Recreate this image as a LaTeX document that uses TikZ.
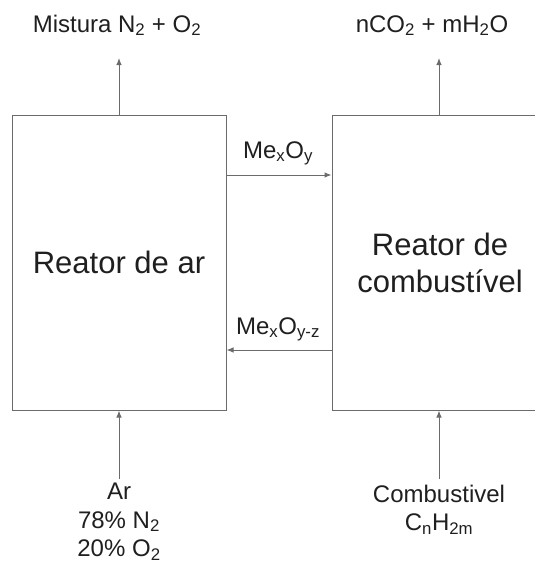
\documentclass[tikz,border=0pt]{standalone}
\usepackage{fontspec}
\setmainfont{Liberation Sans}
\usetikzlibrary{arrows.meta}
\definecolor{linegray}{gray}{0.42}
\definecolor{textgray}{gray}{0.12}
\tikzstyle{reactor}=[draw=linegray, line width=1pt, inner sep=0pt, minimum height=295pt, align=center, text=textgray, font=\fontsize{31}{37}\selectfont]
\tikzstyle{flowlabel}=[inner sep=0pt, align=center, text=textgray, font=\fontsize{24}{28.5}\selectfont]
\tikzstyle{flow}=[-{Latex[length=7pt,width=5.5pt]}, line width=1pt, draw=linegray]

\begin{document}
\begin{tikzpicture}[x=1pt,y=-1pt]
				\useasboundingbox (0,0) rectangle (535,563);

				\node[reactor, minimum width=214pt] (ar) at (119,262.5) {Reator de ar};
				\node[reactor, minimum width=216pt] (comb) at (440,262.5) {Reator de\\combustível};

				\coordinate (arout) at (119,58);
				\coordinate (combout) at (439,58);
				\coordinate (arin) at (119,479);
				\coordinate (combin) at (439,479);

				\node[flowlabel, anchor=base] (mix) at (117,32) {Mistura N\textsubscript{2} + O\textsubscript{2}};
				\node[flowlabel, anchor=base] (prod) at (432,32) {nCO\textsubscript{2} + mH\textsubscript{2}O};
				\node[flowlabel, anchor=north] (air) at (119,483) {Ar\\78\% N\textsubscript{2}\\20\% O\textsubscript{2}};
				\node[flowlabel, anchor=north] (fuel) at (439,484.5) {Combustivel\\C\textsubscript{n}H\textsubscript{2m}};

				\node[flowlabel, anchor=base] (ox) at (278,158) {Me\textsubscript{x}O\textsubscript{y}};
				\node[flowlabel, anchor=base] (red) at (278,334) {Me\textsubscript{x}O\textsubscript{y-z}};

				\draw[flow] (ar.north) -- (arout);
				\draw[flow] (comb.north -| combout) -- (combout);
				\draw[flow] (arin) -- (ar.south);
				\draw[flow] (combin) -- (comb.south -| combin);

				\draw[flow] (ar.east |- 0,175) -- (comb.west |- 0,175);
				\draw[flow] (comb.west |- 0,350) -- (ar.east |- 0,350);
			\end{tikzpicture}
\end{document}
